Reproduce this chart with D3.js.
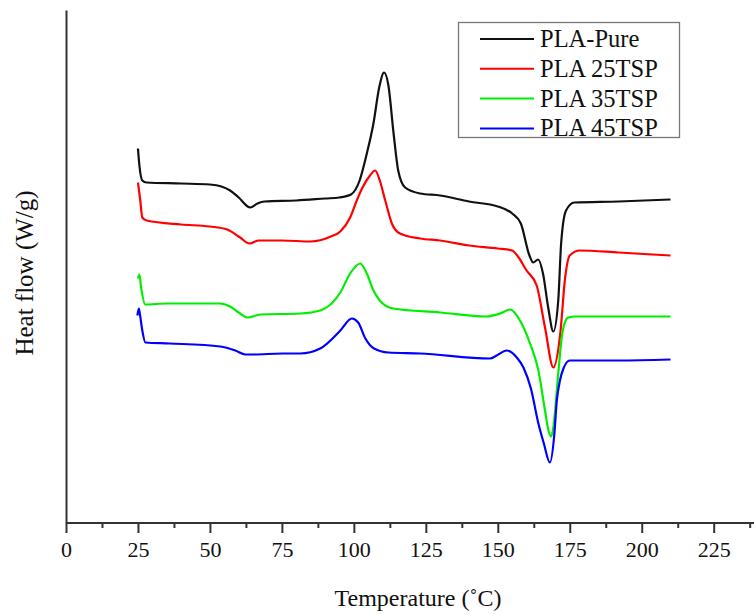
<!DOCTYPE html>
<html>
<head>
<meta charset="utf-8">
<script src="https://cdn.jsdelivr.net/npm/d3@7"></script>
<style>
  body { margin: 0; background: #fff; }
  text { font-family: "Liberation Serif", "Times New Roman", serif; fill: #111; }
</style>
</head>
<body>
<svg id="chart" width="754" height="614"></svg>
<script>
// DSC curves, temperature (°C) vs heat flow (arbitrary offset, W/g)
const pureData = [[25,3.74],[25.5,3.57],[26.5,3.42],[28,3.40],[40,3.39],[50,3.38],[54,3.36],[57,3.32],[60,3.25],[64,3.15],[66.5,3.19],[69,3.21],[80,3.22],[90,3.24],[95,3.25],[99,3.28],[102,3.42],[104.5,3.69],[106.8,3.99],[108.8,4.35],[110.5,4.50],[112,4.37],[113.8,3.89],[115.4,3.52],[117.8,3.35],[123,3.29],[130,3.27],[140,3.21],[150,3.16],[155,3.09],[158,2.99],[161,2.67],[162.3,2.60],[164,2.63],[165.7,2.49],[167.5,2.15],[169.3,1.91],[171,2.22],[172,2.79],[173.7,3.12],[176.6,3.20],[192,3.21],[210,3.23]];
const tsp25Data = [[25,3.40],[25.8,3.22],[26.5,3.05],[28,3.02],[40,2.98],[50,2.96],[56,2.93],[60.5,2.85],[63.7,2.79],[67,2.82],[75,2.82],[85,2.81],[92,2.86],[95.3,2.91],[98.7,3.05],[101,3.22],[103,3.35],[105.6,3.47],[107.4,3.52],[109,3.42],[110.9,3.22],[113.2,2.99],[116,2.89],[123,2.84],[130,2.82],[140,2.77],[150,2.74],[155,2.72],[157,2.66],[160,2.52],[163.5,2.37],[166.4,1.95],[169.3,1.55],[171.7,1.89],[173.4,2.45],[175,2.67],[178.5,2.72],[192,2.70],[210,2.67]];
const tsp35Data = [[25,2.44],[25.5,2.48],[26,2.37],[27.6,2.18],[35,2.19],[53.5,2.19],[57,2.16],[60,2.10],[63.2,2.05],[67.5,2.08],[81.4,2.09],[88.3,2.12],[95.3,2.30],[98.7,2.49],[102.2,2.59],[104.5,2.49],[106.8,2.32],[109,2.22],[113.6,2.14],[130,2.10],[146,2.06],[150.8,2.09],[154.3,2.13],[157.9,2.01],[161.2,1.79],[164.1,1.52],[166.4,1.12],[167.6,0.92],[168.5,0.86],[169.3,0.95],[171,1.49],[172.2,1.85],[173.3,2.00],[174.5,2.05],[177,2.06],[210,2.06]];
const tsp45Data = [[24.8,2.07],[25.3,2.14],[25.8,2.06],[26.5,1.92],[27.6,1.80],[36,1.79],[53.6,1.76],[58.8,1.72],[62.3,1.68],[65,1.68],[75,1.69],[81.4,1.69],[88.3,1.74],[95.3,1.92],[99.3,2.04],[101.5,2.00],[104,1.84],[107,1.74],[112,1.70],[123,1.69],[147.3,1.64],[149.6,1.67],[153.1,1.72],[156.6,1.65],[158.9,1.55],[161.5,1.34],[164.1,0.99],[166,0.79],[168.1,0.60],[169.6,0.87],[170.5,1.22],[171.6,1.42],[172.8,1.54],[175,1.62],[192,1.62],[210,1.63]];

const seriesNames = ["PLA-Pure", "PLA 25TSP", "PLA 35TSP", "PLA 45TSP"];
const seriesColors = ["#111111", "#ff0000", "#00ee00", "#0000ff"];
const seriesData = [pureData, tsp25Data, tsp35Data, tsp45Data];

const majorTicks = [0, 25, 50, 75, 100, 125, 150, 175, 200, 225];
const minorTicks = [12.5, 37.5, 62.5, 87.5, 112.5, 137.5, 162.5, 187.5, 212.5, 237.5];

var svg = d3.select("#chart");

var x = d3.scaleLinear().domain([0, 239]).range([66, 754]);
var y = d3.scaleLinear().domain([0, 5.125]).range([522.5, 10]);

// minor ticks first, then major ticks with labels
svg.append("g")
    .attr("transform", "translate(0,522.5)")
    .call(d3.axisBottom(x).tickValues(minorTicks).tickSize(5.5).tickSizeOuter(0).tickFormat(""))
    .call(g => g.select(".domain").remove())
    .call(g => g.selectAll("line").attr("stroke", "#333").attr("stroke-width", 2));

var xAxis = svg.append("g")
    .attr("transform", "translate(0,522.5)")
    .call(d3.axisBottom(x).tickValues(majorTicks).tickSize(10.5).tickSizeOuter(0).tickPadding(8));
xAxis.select(".domain").attr("stroke", "#333").attr("stroke-width", 2);
xAxis.selectAll("line").attr("stroke", "#333").attr("stroke-width", 2);
xAxis.selectAll("text")
    .style("font-family", "'Liberation Serif', serif")
    .attr("font-size", 22)
    .attr("fill", "#111");

var yAxis = svg.append("g")
    .attr("transform", "translate(66,0)")
    .call(d3.axisLeft(y).tickValues([]).tickSizeOuter(0));
yAxis.select(".domain").attr("stroke", "#333").attr("stroke-width", 2);

// axis titles
svg.append("text")
    .attr("x", 418)
    .attr("y", 606)
    .attr("text-anchor", "middle")
    .attr("font-size", 24)
    .text("Temperature (˚C)");

svg.append("text")
    .attr("transform", "translate(33,273) rotate(-90)")
    .attr("text-anchor", "middle")
    .attr("font-size", 25)
    .text("Heat flow (W/g)");

var line = d3.line()
    .x(d => x(d[0]))
    .y(d => y(d[1]))
    .curve(d3.curveMonotoneX);

seriesData.forEach((data, i) => {
    svg.append("path")
        .datum(data)
        .attr("fill", "none")
        .attr("stroke", seriesColors[i])
        .attr("stroke-width", 2.2)
        .attr("stroke-linejoin", "round")
        .attr("d", line);
});

// legend
var legend = svg.append("g");
legend.append("rect")
    .attr("x", 458.5).attr("y", 22.5)
    .attr("width", 221).attr("height", 115)
    .attr("fill", "#fff")
    .attr("stroke", "#777")
    .attr("stroke-width", 1.3);

seriesNames.forEach((name, i) => {
    var ly = 39 + i * 29.8;
    legend.append("line")
        .attr("x1", 480).attr("x2", 534)
        .attr("y1", ly).attr("y2", ly)
        .attr("stroke", seriesColors[i])
        .attr("stroke-width", 2);
    legend.append("text")
        .attr("x", 540)
        .attr("y", ly + 8)
        .attr("font-size", 24.5)
        .text(name);
});
</script>
</body>
</html>
